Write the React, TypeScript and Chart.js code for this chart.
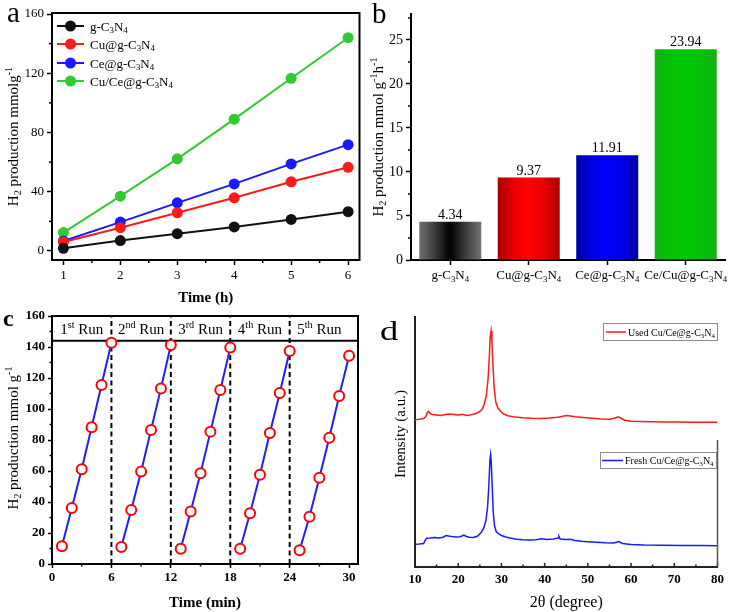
import React, { useEffect, useRef } from "react";
import { Chart, registerables } from "chart.js";

Chart.register(...registerables);

const SERIF = "'Liberation Serif', 'Times New Roman', 'DejaVu Serif', serif";
Chart.defaults.font.family = SERIF;
Chart.defaults.color = "#000";

// ---------- Panel a data ----------
const A_TIME = [1, 2, 3, 4, 5, 6];
const A_G = [1.8, 7, 11.7, 16.2, 21.3, 26.5];
const A_CU = [6, 15.7, 25.8, 35.9, 46.7, 56.5];
const A_CE = [6.7, 19.5, 32.5, 45.3, 58.8, 71.8];
const A_CUCE = [12.4, 37, 62.2, 89, 116.6, 144];
const A_NAMES = ["g-C_3N_4", "Cu@g-C_3N_4", "Ce@g-C_3N_4", "Cu/Ce@g-C_3N_4"];
const A_COLORS = ["#111111", "#ff1a1a", "#1a1aff", "#2fcb2f"];
const A_Y_TICKS = [0, 40, 80, 120, 160];
const A_Y_MINOR = [20, 60, 100, 140];
const A_X_MINOR = [1.5, 2.5, 3.5, 4.5, 5.5];

// ---------- Panel b data ----------
const B_CATS = ["g-C_3N_4", "Cu@g-C_3N_4", "Ce@g-C_3N_4", "Ce/Cu@g-C_3N_4"];
const B_RATES = [4.34, 9.37, 11.91, 23.94];
const B_Y_TICKS = [0, 5, 10, 15, 20, 25];
const B_Y_MINOR = [2.5, 7.5, 12.5, 17.5, 22.5, 27.5];
const B_GRADIENTS = [
  ["#727272", "#3c3c3c", "#000000", "#3c3c3c", "#727272"],
  ["#a80000", "#e80000", "#ff0000", "#e80000", "#a80000"],
  ["#00009c", "#0000e6", "#0000ff", "#0000e6", "#00009c"],
  ["#12b212", "#05c205", "#00c800", "#05c205", "#12b212"],
];

// ---------- Panel c data ----------
const C_RUN_LABELS = ["1^{st} Run", "2^{nd} Run", "3^{rd} Run", "4^{th} Run", "5^{th} Run"];
const C_RUN_TIMES = [
  [1, 2, 3, 4, 5, 6],
  [7, 8, 9, 10, 11, 12],
  [13, 14, 15, 16, 17, 18],
  [19, 20, 21, 22, 23, 24],
  [25, 26, 27, 28, 29, 30],
];
const C_RUN_VALUES = [
  [11.4, 36.1, 61.1, 88.2, 115.5, 142.8],
  [11, 34.8, 59.6, 86.5, 113.3, 141.3],
  [9.9, 33.8, 58.5, 85.4, 112.3, 139.6],
  [9.9, 32.7, 57.6, 84.5, 110.3, 137.4],
  [8.8, 30.5, 55.7, 81.5, 108.4, 134.4],
];
const C_SPLITS = [0, 6, 12, 18, 24, 30];
const C_HEADER = 144;
const C_X_TICKS = [0, 6, 12, 18, 24, 30];
const C_X_MINOR = [3, 9, 15, 21, 27];
const C_Y_TICKS = [0, 20, 40, 60, 80, 100, 120, 140, 160];
const C_Y_MINOR = [10, 30, 50, 70, 90, 110, 130, 150];

// ---------- Panel d data ----------
const D_USED_X = [10, 11, 12, 12.5, 12.8, 13.1, 13.5, 14, 15, 16, 17, 18, 19, 20, 21, 22, 23, 24, 24.8, 25.5, 26, 26.5, 26.9, 27.2, 27.4, 27.6, 27.8, 28.0, 28.3, 28.7, 29.2, 29.8, 30.5, 31.5, 33, 35, 37, 39, 41, 43, 44, 45, 46, 47, 49, 51, 53, 55, 56.3, 57, 57.6, 58.5, 60, 62, 65, 68, 71, 74, 77, 80];
const D_USED_Y = [58.9, 59.1, 59.4, 60.2, 61.6, 62.2, 61.4, 61.0, 60.8, 60.6, 61.0, 61.2, 61.0, 60.8, 61.1, 60.6, 60.9, 61.3, 62.0, 63.0, 65.0, 68.5, 75, 84, 92, 94.4, 90, 82, 72, 66, 63.5, 62.3, 61.2, 60.5, 60.0, 59.7, 59.5, 59.4, 59.6, 59.9, 60.2, 60.6, 60.4, 60.1, 59.8, 59.5, 59.2, 59.1, 59.6, 60.1, 59.6, 58.7, 58.3, 58.2, 58.1, 58.0, 58.0, 57.9, 57.9, 57.9];
const D_FRESH_X = [10, 11, 12, 12.4, 12.7, 13.5, 14.5, 15.5, 16.5, 17.2, 17.8, 18.5, 19.5, 20.5, 21.3, 21.8, 22.5, 23.5, 24.5, 25.3, 25.9, 26.4, 26.8, 27.1, 27.35, 27.5, 27.65, 27.85, 28.1, 28.4, 28.8, 29.4, 30, 31, 32, 33.5, 35, 36.5, 38, 39.3, 40.5, 42, 43.1, 43.3, 43.6, 45, 46, 47, 48.5, 50, 52, 54, 56, 57.2, 58, 60, 63, 67, 72, 76, 80];
const D_FRESH_Y = [9.1, 9.2, 9.4, 10.8, 11.5, 11.6, 11.8, 11.6, 11.9, 12.6, 12.4, 12.2, 12.0, 12.1, 12.8, 12.3, 11.9, 11.8, 12.4, 13.8, 15.5, 18.5, 24, 33, 43, 45, 42, 33, 22, 16.5, 14.2, 13.2, 12.6, 12.0, 11.6, 11.1, 10.9, 10.8, 10.9, 11.3, 11.0, 11.2, 11.6, 12.3, 11.2, 11.0, 11.1, 10.6, 10.3, 10.1, 9.9, 9.7, 9.6, 10.2, 9.4, 9.0, 8.8, 8.7, 8.6, 8.6, 8.5];
const D_X_TICKS = [10, 20, 30, 40, 50, 60, 70, 80];
const D_X_MINOR = [15, 25, 35, 45, 55, 65, 75];
const D_NAMES = ["Used Cu/Ce@g-C_3N_4", "Fresh Cu/Ce@g-C_3N_4"];

// ---------- rich text helpers ----------
type Seg = { t: string; m: number };
function parseRich(s: string): Seg[] {
  const out: Seg[] = [];
  let buf = "";
  let i = 0;
  while (i < s.length) {
    const c = s[i];
    if (c === "_" || c === "^") {
      if (buf) { out.push({ t: buf, m: 0 }); buf = ""; }
      let t = "";
      if (s[i + 1] === "{") {
        const j = s.indexOf("}", i + 2);
        t = s.slice(i + 2, j);
        i = j + 1;
      } else {
        t = s[i + 1];
        i += 2;
      }
      out.push({ t, m: c === "_" ? 1 : 2 });
    } else {
      buf += c;
      i++;
    }
  }
  if (buf) out.push({ t: buf, m: 0 });
  return out;
}
const fnt = (size: number, weight: string) => `${weight} ${size}px ${SERIF}`;
function drawRich(
  ctx: CanvasRenderingContext2D,
  s: string,
  x: number,
  y: number,
  size: number,
  o: { weight?: string; align?: string; color?: string; rotate?: boolean } = {}
) {
  const segs = parseRich(s);
  const w = o.weight || "normal";
  const small = size * 0.68;
  let total = 0;
  for (const sg of segs) {
    ctx.font = fnt(sg.m ? small : size, w);
    total += ctx.measureText(sg.t).width;
  }
  ctx.save();
  ctx.translate(x, y);
  if (o.rotate) ctx.rotate(-Math.PI / 2);
  let cx = o.align === "left" ? 0 : o.align === "right" ? -total : -total / 2;
  ctx.fillStyle = o.color || "#000";
  ctx.textBaseline = "alphabetic";
  ctx.textAlign = "left";
  for (const sg of segs) {
    ctx.font = fnt(sg.m ? small : size, w);
    const dy = sg.m === 1 ? size * 0.22 : sg.m === 2 ? -size * 0.38 : 0;
    ctx.fillText(sg.t, cx, dy);
    cx += ctx.measureText(sg.t).width;
  }
  ctx.restore();
}
function line(ctx: CanvasRenderingContext2D, x1: number, y1: number, x2: number, y2: number) {
  ctx.beginPath();
  ctx.moveTo(x1, y1);
  ctx.lineTo(x2, y2);
  ctx.stroke();
}
const setTicks = (vals: number[]) => (s: any) => {
  s.ticks = vals.map((v) => ({ value: v }));
};

// ---------- Panel a ----------
function makeA(): any {
  const series = [A_G, A_CU, A_CE, A_CUCE];
  return {
    type: "line",
    data: {
      datasets: series.map((vals, i) => ({
        label: A_NAMES[i],
        data: A_TIME.map((t, j) => ({ x: t, y: vals[j] })),
        borderColor: A_COLORS[i],
        backgroundColor: A_COLORS[i],
        pointBackgroundColor: A_COLORS[i],
        pointBorderColor: A_COLORS[i],
        pointRadius: 5.5,
        pointBorderWidth: 0,
        borderWidth: 2,
        tension: 0,
      })),
    },
    options: {
      responsive: false,
      animation: false,
      events: [],
      layout: { padding: { top: 13, right: 5, left: 0, bottom: 0 } },
      plugins: { legend: { display: false }, tooltip: { enabled: false } },
      scales: {
        x: {
          type: "linear",
          min: 0.8,
          max: 6.2,
          afterBuildTicks: setTicks(A_TIME),
          afterFit: (s: any) => { s.height = 52; },
          ticks: { font: { size: 13 }, color: "#000", padding: 3, maxRotation: 0, autoSkip: false },
          grid: { display: true, drawOnChartArea: false, tickLength: 5, tickWidth: 1.5, color: "#000" },
          border: { display: true, color: "#000", width: 2 },
        },
        y: {
          min: -6.1,
          max: 160.7,
          afterBuildTicks: setTicks(A_Y_TICKS),
          afterFit: (s: any) => { s.width = 52; },
          ticks: { font: { size: 13 }, color: "#000", padding: 3 },
          grid: { display: true, drawOnChartArea: false, tickLength: 5, tickWidth: 1.5, color: "#000" },
          border: { display: true, color: "#000", width: 2 },
        },
      },
    },
    plugins: [
      {
        id: "decorA",
        afterDraw(chart: any) {
          const { ctx, chartArea: ca, scales } = chart;
          ctx.save();
          ctx.strokeStyle = "#000";
          ctx.lineWidth = 2;
          ctx.beginPath();
          ctx.moveTo(ca.left - 1, ca.top);
          ctx.lineTo(ca.right, ca.top);
          ctx.lineTo(ca.right, ca.bottom + 1);
          ctx.stroke();
          ctx.lineWidth = 1.5;
          for (const v of A_X_MINOR) {
            const px = scales.x.getPixelForValue(v);
            line(ctx, px, ca.bottom, px, ca.bottom + 3);
          }
          for (const v of A_Y_MINOR) {
            const py = scales.y.getPixelForValue(v);
            line(ctx, ca.left, py, ca.left - 3, py);
          }
          // legend
          const ys = [26, 44, 63, 81];
          A_NAMES.forEach((n, i) => {
            ctx.strokeStyle = A_COLORS[i];
            ctx.lineWidth = 2;
            line(ctx, 57, ys[i], 84, ys[i]);
            ctx.fillStyle = A_COLORS[i];
            ctx.beginPath();
            ctx.arc(70.5, ys[i], 5.5, 0, Math.PI * 2);
            ctx.fill();
            drawRich(ctx, n, 90, ys[i] + 4.5, 13, { align: "left" });
          });
          drawRich(ctx, "H_2 production mmolg^{-1}", 18, (ca.top + ca.bottom) / 2, 15, { rotate: true });
          drawRich(ctx, "Time (h)", (ca.left + ca.right) / 2, 302, 15, { weight: "bold" });
          drawRich(ctx, "a", 7, 22, 29, { align: "left" });
          ctx.restore();
        },
      },
    ],
  };
}

// ---------- Panel b ----------
function makeB(): any {
  return {
    type: "bar",
    data: {
      labels: B_CATS,
      datasets: [
        {
          data: B_RATES,
          borderWidth: 0,
          categoryPercentage: 1,
          barPercentage: 0.79,
          backgroundColor: (c: any) => {
            const i = c.dataIndex;
            if (i == null) return "#888";
            const chart = c.chart;
            const xs = chart.scales && chart.scales.x;
            const stops = B_GRADIENTS[i];
            if (!xs || !xs.width) return stops[2];
            const cx = xs.getPixelForValue(i);
            const w = (xs.width / B_CATS.length) * 0.79;
            const g = chart.ctx.createLinearGradient(cx - w / 2, 0, cx + w / 2, 0);
            stops.forEach((col: string, k: number) => g.addColorStop(k / (stops.length - 1), col));
            return g;
          },
        },
      ],
    },
    options: {
      responsive: false,
      animation: false,
      events: [],
      layout: { padding: { top: 14, right: 4, left: 0, bottom: 0 } },
      plugins: { legend: { display: false }, tooltip: { enabled: false } },
      scales: {
        x: {
          afterFit: (s: any) => { s.height = 52; },
          ticks: { display: false },
          grid: { display: true, drawOnChartArea: false, offset: false, tickLength: 5, tickWidth: 1.5, color: "#000" },
          border: { display: true, color: "#000", width: 2 },
        },
        y: {
          min: 0,
          max: 27.95,
          afterBuildTicks: setTicks(B_Y_TICKS),
          afterFit: (s: any) => { s.width = 46; },
          ticks: { font: { size: 14 }, color: "#000", padding: 3 },
          grid: { display: true, drawOnChartArea: false, tickLength: 5, tickWidth: 1.5, color: "#000" },
          border: { display: true, color: "#000", width: 2 },
        },
      },
    },
    plugins: [
      {
        id: "decorB",
        afterDraw(chart: any) {
          const { ctx, chartArea: ca, scales } = chart;
          ctx.save();
          ctx.strokeStyle = "#000";
          ctx.lineWidth = 1.5;
          for (const v of B_Y_MINOR) {
            const py = scales.y.getPixelForValue(v);
            line(ctx, ca.left, py, ca.left - 3, py);
          }
          const meta = chart.getDatasetMeta(0);
          meta.data.forEach((el: any, i: number) => {
            drawRich(ctx, B_RATES[i].toFixed(2), el.x, el.y - 3, 14);
          });
          B_CATS.forEach((c, i) => {
            drawRich(ctx, c, scales.x.getPixelForValue(i), 279, 13);
          });
          drawRich(ctx, "H_2 production mmol g^{-1}h^{-1}", 18, (ca.top + ca.bottom) / 2, 15, { rotate: true });
          drawRich(ctx, "b", 7, 23, 29, { align: "left" });
          ctx.restore();
        },
      },
    ],
  };
}

// ---------- Panel c ----------
function makeC(): any {
  return {
    type: "line",
    data: {
      datasets: C_RUN_VALUES.map((vals, r) => ({
        data: C_RUN_TIMES[r].map((t, j) => ({ x: t, y: vals[j] })),
        borderColor: "#1f1fff",
        borderWidth: 2,
        pointRadius: 5,
        pointBorderWidth: 2,
        pointBorderColor: "#ff0000",
        pointBackgroundColor: "#ffffff",
        tension: 0,
        clip: false,
      })),
    },
    options: {
      responsive: false,
      animation: false,
      events: [],
      layout: { padding: { top: 16, right: 6, left: 0, bottom: 0 } },
      plugins: { legend: { display: false }, tooltip: { enabled: false } },
      scales: {
        x: {
          type: "linear",
          min: 0,
          max: 30.9,
          afterBuildTicks: setTicks(C_X_TICKS),
          afterFit: (s: any) => { s.height = 48; },
          ticks: { font: { size: 13, weight: "bold" }, color: "#000", padding: 2, maxRotation: 0, autoSkip: false },
          grid: { display: true, drawOnChartArea: false, tickLength: 4, tickWidth: 1.5, color: "#000" },
          border: { display: true, color: "#000", width: 2 },
        },
        y: {
          min: 0,
          max: 160,
          afterBuildTicks: setTicks(C_Y_TICKS),
          afterFit: (s: any) => { s.width = 52; },
          ticks: { font: { size: 13, weight: "bold" }, color: "#000", padding: 3, autoSkip: false },
          grid: { display: true, drawOnChartArea: false, tickLength: 4, tickWidth: 1.5, color: "#000" },
          border: { display: true, color: "#000", width: 2 },
        },
      },
    },
    plugins: [
      {
        id: "decorC",
        beforeDatasetsDraw(chart: any) {
          const { ctx, chartArea: ca, scales } = chart;
          ctx.save();
          ctx.strokeStyle = "#000";
          ctx.lineWidth = 2;
          const hy = scales.y.getPixelForValue(C_HEADER);
          line(ctx, ca.left, hy, ca.right, hy);
          ctx.setLineDash([5, 3.5]);
          for (const v of C_SPLITS.slice(1, -1)) {
            const px = scales.x.getPixelForValue(v);
            line(ctx, px, ca.bottom, px, ca.top);
          }
          ctx.restore();
        },
        afterDraw(chart: any) {
          const { ctx, chartArea: ca, scales } = chart;
          ctx.save();
          ctx.strokeStyle = "#000";
          ctx.lineWidth = 2;
          ctx.beginPath();
          ctx.moveTo(ca.left - 1, ca.top);
          ctx.lineTo(ca.right, ca.top);
          ctx.lineTo(ca.right, ca.bottom + 1);
          ctx.stroke();
          ctx.lineWidth = 1.5;
          for (const v of C_X_MINOR) {
            const px = scales.x.getPixelForValue(v);
            line(ctx, px, ca.bottom, px, ca.bottom + 2.5);
          }
          for (const v of C_Y_MINOR) {
            const py = scales.y.getPixelForValue(v);
            line(ctx, ca.left, py, ca.left - 2.5, py);
          }
          const hy = scales.y.getPixelForValue(C_HEADER);
          C_RUN_LABELS.forEach((lab, i) => {
            const mid = (C_SPLITS[i] + C_SPLITS[i + 1]) / 2;
            drawRich(ctx, lab, scales.x.getPixelForValue(mid), (ca.top + hy) / 2 + 5.5, 15);
          });
          drawRich(ctx, "H_2 production mmol g^{-1}", 18, 138, 15, { rotate: true });
          drawRich(ctx, "Time (min)", (ca.left + ca.right) / 2, 307, 15, { weight: "bold" });
          drawRich(ctx, "c", 3, 26, 24, { align: "left", weight: "bold" });
          ctx.restore();
        },
      },
    ],
  };
}

// ---------- Panel d ----------
function makeD(): any {
  return {
    type: "line",
    data: {
      datasets: [
        {
          data: D_USED_X.map((x, i) => ({ x, y: D_USED_Y[i] })),
          borderColor: "#ff1a1a",
          borderWidth: 1.5,
          pointRadius: 0,
          tension: 0,
        },
        {
          data: D_FRESH_X.map((x, i) => ({ x, y: D_FRESH_Y[i] })),
          borderColor: "#1a1aff",
          borderWidth: 1.5,
          pointRadius: 0,
          tension: 0,
        },
      ],
    },
    options: {
      responsive: false,
      animation: false,
      events: [],
      layout: { padding: { top: 17, right: 7, left: 0, bottom: 0 } },
      plugins: { legend: { display: false }, tooltip: { enabled: false } },
      scales: {
        x: {
          type: "linear",
          min: 10,
          max: 80,
          afterBuildTicks: setTicks(D_X_TICKS),
          afterFit: (s: any) => { s.height = 45; },
          ticks: { font: { size: 13, weight: "bold" }, color: "#000", padding: 5, maxRotation: 0, autoSkip: false },
          grid: { display: false, drawTicks: false },
          border: { display: true, color: "#222", width: 2 },
        },
        y: {
          min: 0,
          max: 100,
          afterFit: (s: any) => { s.width = 50; },
          ticks: { display: false },
          grid: { display: false, drawTicks: false },
          border: { display: true, color: "#222", width: 2 },
        },
      },
    },
    plugins: [
      {
        id: "decorD",
        afterDraw(chart: any) {
          const { ctx, chartArea: ca, scales } = chart;
          ctx.save();
          ctx.strokeStyle = "#222";
          ctx.lineWidth = 1.5;
          for (const v of D_X_TICKS) {
            const px = scales.x.getPixelForValue(v);
            line(ctx, px, ca.bottom, px, ca.bottom - 4);
          }
          for (const v of D_X_MINOR) {
            const px = scales.x.getPixelForValue(v);
            line(ctx, px, ca.bottom, px, ca.bottom - 2.5);
          }
          ctx.lineWidth = 1.5;
          ctx.strokeStyle = "#555";
          line(ctx, ca.right, 140, ca.right, ca.bottom);
          // legends
          const boxes = [
            { x: 238, y: 23, w: 114, h: 17, lx1: 241, lx2: 261, tx: 263, col: "#ff1a1a" },
            { x: 235, y: 152, w: 116, h: 16, lx1: 237, lx2: 258, tx: 260, col: "#1a1aff" },
          ];
          boxes.forEach((b, i) => {
            ctx.fillStyle = "#fff";
            ctx.fillRect(b.x, b.y, b.w, b.h);
            ctx.strokeStyle = "#8a8a8a";
            ctx.lineWidth = 1;
            ctx.strokeRect(b.x + 0.5, b.y + 0.5, b.w, b.h);
            ctx.strokeStyle = b.col;
            ctx.lineWidth = 1.5;
            const my = b.y + b.h / 2 + 0.5;
            line(ctx, b.lx1, my, b.lx2, my);
            drawRich(ctx, D_NAMES[i], b.tx, my + 3.5, 10, { align: "left" });
          });
          drawRich(ctx, "Intensity (a.u.)", 40, 134, 15, { rotate: true });
          drawRich(ctx, "2θ (degree)", (ca.left + ca.right) / 2, 307, 16);
          ctx.save();
          ctx.translate(15, 40);
          ctx.scale(1.35, 1);
          ctx.font = fnt(27, "normal");
          ctx.fillStyle = "#000";
          ctx.textAlign = "left";
          ctx.textBaseline = "alphabetic";
          ctx.fillText("d", 0, 0);
          ctx.restore();
          ctx.restore();
        },
      },
    ],
  };
}

function PanelCanvas({ left, top, width, height, make }: { left: number; top: number; width: number; height: number; make: () => any }) {
  const ref = useRef<HTMLCanvasElement | null>(null);
  useEffect(() => {
    if (!ref.current) return;
    const chart = new Chart(ref.current, make());
    return () => chart.destroy();
  }, []);
  return (
    <canvas
      ref={ref}
      width={width}
      height={height}
      style={{ position: "absolute", left, top, width, height, display: "block" }}
    />
  );
}

export default function App() {
  return (
    <div style={{ position: "fixed", left: 0, top: 0, width: 729, height: 612, background: "#fff", overflow: "hidden" }}>
      <PanelCanvas left={0} top={0} width={365} height={312} make={makeA} />
      <PanelCanvas left={365} top={0} width={364} height={312} make={makeB} />
      <PanelCanvas left={0} top={300} width={365} height={312} make={makeC} />
      <PanelCanvas left={365} top={300} width={364} height={312} make={makeD} />
    </div>
  );
}
